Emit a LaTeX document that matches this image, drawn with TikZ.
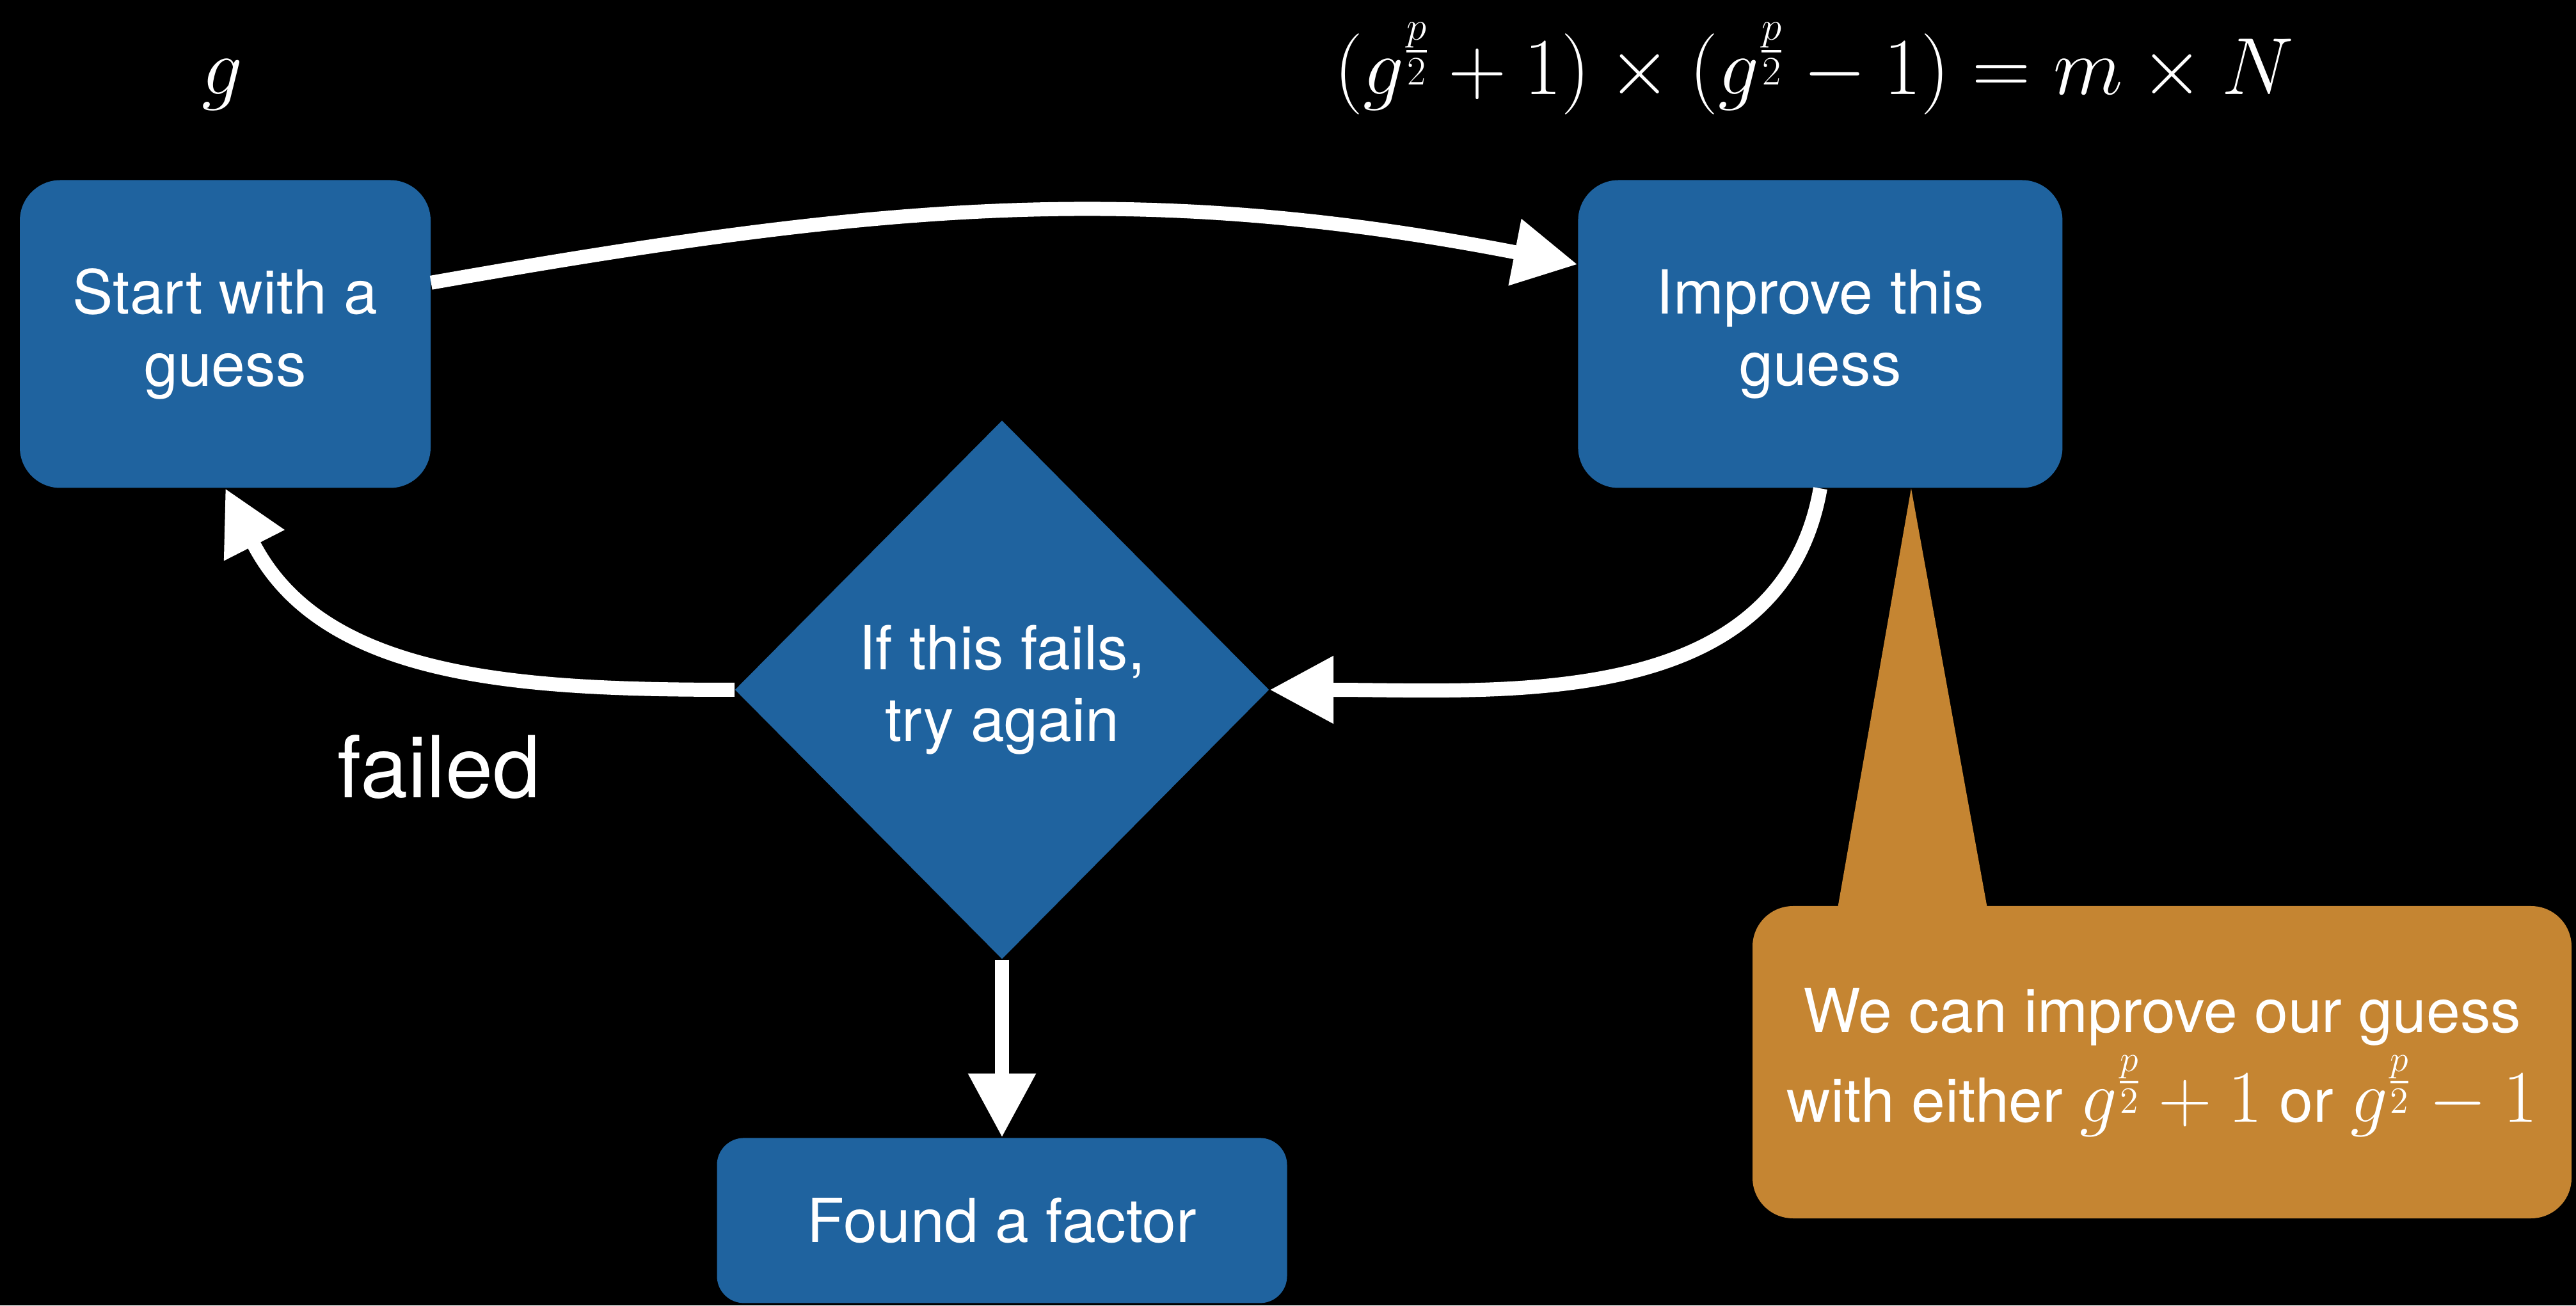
\RequirePackage{fix-cm}
\documentclass[tikz,border=0pt]{standalone}
\usepackage{amsmath}
\usepackage{fontspec}
\setmainfont{TeX Gyre Heros}
\usepackage{tikz}
\usetikzlibrary{shapes.geometric, positioning, arrows.meta, calc}
\definecolor{boxblue}{RGB}{31,99,159}
\definecolor{noteorange}{RGB}{197,133,50}
\newcommand{\notemath}[1]{{\fontsize{33}{38}\selectfont$#1$}}

\begin{document}
\begin{tikzpicture}[
        font=\fontsize{27}{32}\selectfont,
        % Style for the rounded process boxes
        process/.style={
            fill=boxblue,
            text=white,
            rectangle,
            rounded corners=18pt,
            minimum width=6.42cm,
            minimum height=4.81cm,
            align=center
        },
        % Style for the decision diamond
        decision/.style={
            fill=boxblue,
            text=white,
            diamond,
            minimum width=8.35cm,
            minimum height=8.42cm,
            inner sep=0pt,
            align=center
        },
        % Style for the callout note
        note/.style={
            fill=noteorange,
            text=white,
            rectangle,
            rounded corners=18pt,
            minimum width=12.8cm,
            minimum height=4.88cm,
            align=center,
            font=\fontsize{27}{40}\selectfont
        },
        % Style for the formulas and loose labels
        mathlabel/.style={text=white, font=\fontsize{36}{44}\selectfont, anchor=base},
        label/.style={text=white, font=\fontsize{38}{44}\selectfont},
        arrow/.style={-{Triangle[length=1cm, width=1cm]}, line width=0.22cm, draw=white}
    ]

        % Background
        \fill[black] (0,0) rectangle (40.26,20.40);
        \useasboundingbox (0,0) rectangle (40.26,20.40);

        % 1. The guess
        \node[process] (start) at (3.52,15.18) {Start with a\\guess};
        \node[mathlabel] (glabel) at (3.47,18.92) {$g$};

        % 2. Improving the guess
        \node[process, minimum width=7.57cm, right=17.92cm of start] (improve) {Improve this\\guess};
        \node[mathlabel] (formula) at (28.35,18.92)
            {$(g^{\frac{p}{2}}+1)\times(g^{\frac{p}{2}}-1)=m\times N$};

        % 3. Decision and result
        \node[decision] (check) at (15.66,9.62) {If this fails,\\try again};
        \node[process, minimum width=8.91cm, minimum height=2.58cm,
              rounded corners=12pt, below=2.78cm of check] (found) {Found a factor};
        \node[label] (failtext) at (6.86,8.41) {failed};

        % Callout with its pointer
        \node[note] (hint) at (33.79,3.80)
            {We can improve our guess\\with either \notemath{g^{\frac{p}{2}}+1} or \notemath{g^{\frac{p}{2}}-1}};
        \fill[noteorange] ($(improve.south)+(1.42,0)$) -- ($(hint.north)+(-5.08,-0.1)$)
            -- ($(hint.north)+(-2.72,-0.1)$) -- cycle;

        % Arrows
        \draw[arrow] (start.14) to[out=10, in=169] (improve.164);
        \draw[arrow] (improve.south) to[out=-100, in=0] (check.east);
        \draw[arrow] (check.west) to[out=180, in=-63] (start.south);
        \draw[arrow] (check.south) -- (found.north);

    \end{tikzpicture}
\end{document}
